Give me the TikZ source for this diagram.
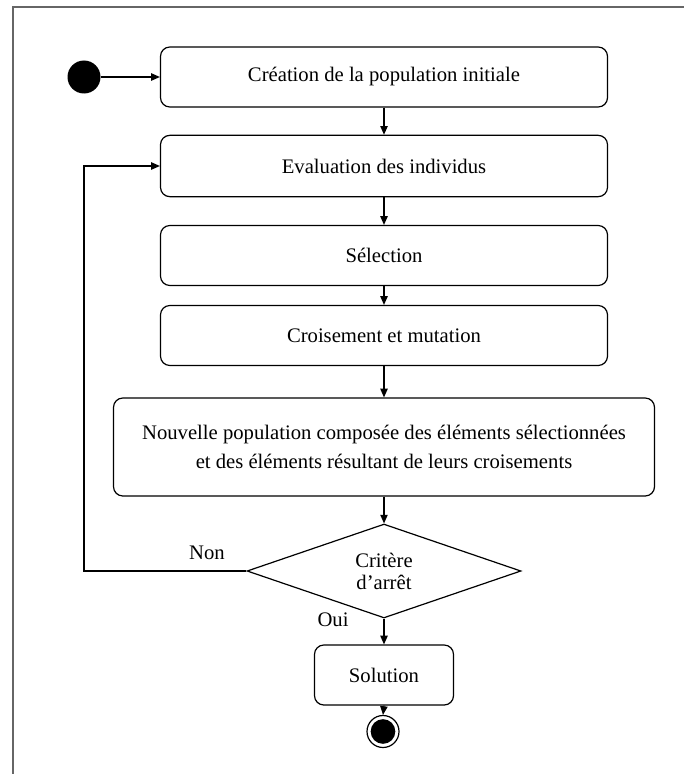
\documentclass[tikz,border=0pt]{standalone}
\usepackage{fontspec}
\setmainfont{Liberation Serif}
\usetikzlibrary{shapes.geometric,arrows.meta}
\begin{document}
\begin{tikzpicture}[x=0.75pt,y=-0.75pt,
  every node/.style={font=\fontsize{15.5}{21.75}\selectfont},
  box/.style={draw,rounded corners=7pt,line width=0.9pt,align=center,inner sep=0pt},
  decision/.style={draw,diamond,line width=0.9pt,align=center,inner sep=0pt,
    font=\fontsize{15.5}{16.5}\selectfont},
  arr/.style={line width=0.9pt,-{Triangle[length=6.5pt,width=5.5pt]}},
  frame/.style={draw=black!60,line width=1.5pt}]
\useasboundingbox (0,0) rectangle (683,774);
\draw[frame] (13,780) -- (13,7) -- (690,7);
% start
\node[circle,fill=black,inner sep=0pt,minimum size=24.75pt] (start) at (84,77) {};
% boxes
\node[box,minimum width=335.25pt,minimum height=45pt] (b1) at (384,77) {Création de la population initiale};
\node[box,minimum width=335.25pt,minimum height=46pt] (b2) at (384,166) {Evaluation des individus};
\node[box,minimum width=335.25pt,minimum height=45pt] (b3) at (384,255.5) {Sélection};
\node[box,minimum width=335.25pt,minimum height=45pt] (b4) at (384,335.5) {Croisement et mutation};
\node[box,minimum width=405.75pt,minimum height=73.5pt] (b5) at (384,447) {Nouvelle population composée des éléments sélectionnées\\et des éléments résultant de leurs croisements};
\node[decision,minimum width=205.5pt,minimum height=60pt] (dia) at (384,571) {Critère\\d’arrêt};
\node[box,minimum width=104.25pt,minimum height=45pt] (sol) at (384,675) {Solution};
% end
\node[circle,draw,line width=0.9pt,inner sep=0pt,minimum size=24pt] (end) at (383,731.5) {};
\node[circle,fill=black,inner sep=0pt,minimum size=18.5pt] (endin) at (383,731.5) {};
% labels
\node (non) at (207,553) {Non};
\node (oui) at (333,620) {Oui};
% connectors
\coordinate (loop) at (84,571);
\draw[arr] (start) -- (b1);
\draw[arr] (b1) -- (b2);
\draw[arr] (b2) -- (b3);
\draw[arr] (b3) -- (b4);
\draw[arr] (b4) -- (b5);
\draw[arr] (b5) -- (dia);
\draw[arr] (dia.south) -- (sol.north);
\draw[arr] (sol.south) -- (end.north);
\draw[arr] (dia.west) -- (loop) |- (b2.west);
\end{tikzpicture}
\end{document}
